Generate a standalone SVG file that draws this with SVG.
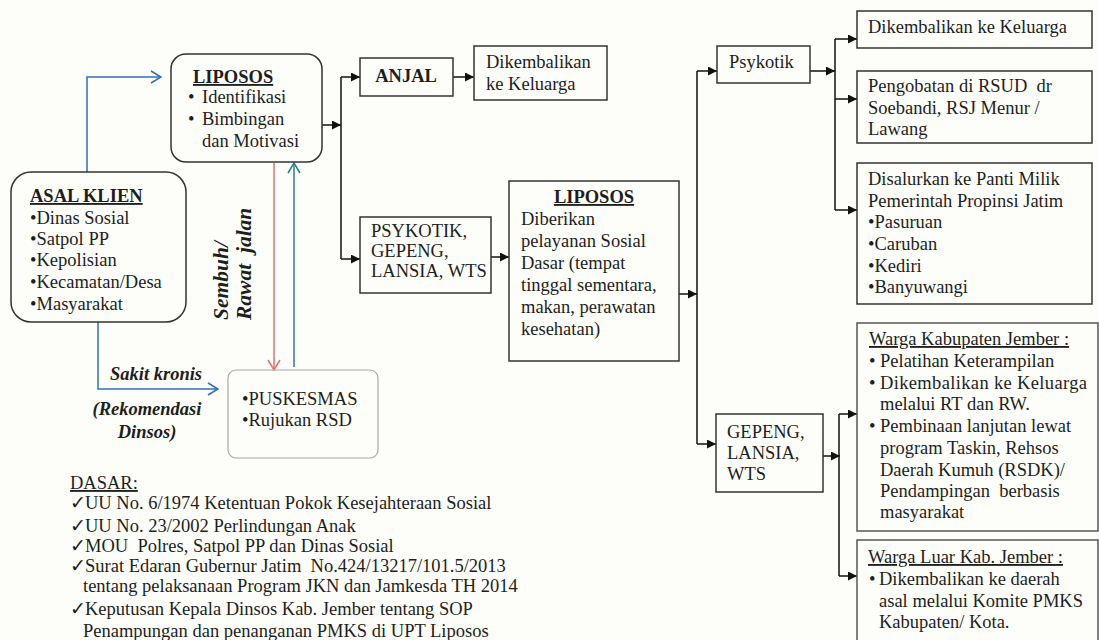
<svg xmlns="http://www.w3.org/2000/svg" width="1099" height="640" viewBox="0 0 1099 640" font-family="'Liberation Serif', 'Times New Roman', 'DejaVu Serif', serif">
<style>
text{font-family:'Liberation Serif','Times New Roman','DejaVu Serif',serif;font-size:18.5px;fill:#1e1e1e}
.b{font-weight:bold}
.bi{font-weight:bold;font-style:italic}
.u{text-decoration:underline}
.box{fill:none;stroke:#333;stroke-width:1.5}
.gbox{fill:none;stroke:#555;stroke-width:1.5}
.lbox{fill:none;stroke:#a8a8a8;stroke-width:1.2}
.k{fill:none;stroke:#111;stroke-width:1.5}
.ar{fill:none;stroke:#111;stroke-width:1.5;marker-end:url(#ah)}
.blue{fill:none;stroke:#2f6fb5;stroke-width:1.5;marker-end:url(#ob)}
.red{fill:none;stroke:#e07070;stroke-width:1.5;marker-end:url(#or)}
.teal{fill:none;stroke:#2d7d8e;stroke-width:1.5;marker-end:url(#ot)}
.ck{font-family:'DejaVu Sans',sans-serif;font-size:19px}
</style>
<defs>
<marker id="ah" viewBox="0 0 10 10" refX="10" refY="5" markerWidth="9" markerHeight="9" markerUnits="userSpaceOnUse" orient="auto"><path d="M0,0 L10,5 L0,10 Z" fill="#111"/></marker>
<marker id="ob" viewBox="0 0 12 14" refX="11" refY="7" markerWidth="12" markerHeight="14" markerUnits="userSpaceOnUse" orient="auto"><path d="M1,1 L11,7 L1,13" fill="none" stroke="#2f6fb5" stroke-width="1.5"/></marker>
<marker id="or" viewBox="0 0 12 14" refX="11" refY="7" markerWidth="12" markerHeight="14" markerUnits="userSpaceOnUse" orient="auto"><path d="M1,1 L11,7 L1,13" fill="none" stroke="#e07070" stroke-width="1.5"/></marker>
<marker id="ot" viewBox="0 0 12 14" refX="11" refY="7" markerWidth="12" markerHeight="14" markerUnits="userSpaceOnUse" orient="auto"><path d="M1,1 L11,7 L1,13" fill="none" stroke="#2d7d8e" stroke-width="1.5"/></marker>
</defs>
<rect x="0" y="0" width="1099" height="640" fill="#fdfdf9"/>

<g id="connectors">
<path class="blue" d="M87,172 V77 H161"/>
<path class="blue" d="M98,322 V389 H218"/>
<path class="red" d="M274,163 V370"/>
<path class="teal" d="M294,367 V163"/>
<path class="ar" d="M322,125 H341"/>
<path class="k" d="M341,77 V259"/>
<path class="ar" d="M341,77 H360"/>
<path class="ar" d="M341,259 H360"/>
<path class="ar" d="M453,77 H474"/>
<path class="ar" d="M491,257 H509"/>
<path class="ar" d="M679,294 H697"/>
<path class="k" d="M697,71 V444"/>
<path class="ar" d="M697,71 H717"/>
<path class="ar" d="M697,444 H716"/>
<path class="ar" d="M810,71 H835"/>
<path class="k" d="M835,39 V210"/>
<path class="ar" d="M835,39 H857"/>
<path class="ar" d="M835,99 H857"/>
<path class="ar" d="M835,210 H857"/>
<path class="ar" d="M823,456 H840"/>
<path class="k" d="M839,414 V576"/>
<path class="ar" d="M839,414 H857"/>
<path class="ar" d="M839,576 H857"/>
</g>

<g id="label-sakit">
<text class="bi" x="110" y="380">Sakit kronis</text>
<text class="bi" x="147" y="415" text-anchor="middle">(Rekomendasi</text>
<text class="bi" x="147" y="438" text-anchor="middle">Dinsos)</text>
</g>
<g id="label-sembuh">
<text class="bi" transform="translate(228,320) rotate(-90)" x="0" y="0" style="font-size:21.5px">Sembuh/</text>
<text class="bi" transform="translate(251,320) rotate(-90)" x="0" y="0" style="font-size:21.5px" xml:space="preserve">Rawat  jalan</text>
</g>

<g id="asal-klien">
<rect class="box" x="11" y="172" width="175" height="150" rx="20"/>
<text class="b u" x="30" y="202">ASAL KLIEN</text>
<text x="30" y="224">•Dinas Sosial</text>
<text x="30" y="245">•Satpol PP</text>
<text x="30" y="266">•Kepolisian</text>
<text x="30" y="288">•Kecamatan/Desa</text>
<text x="30" y="310">•Masyarakat</text>
</g>

<g id="liposos-1">
<rect class="box" x="171" y="54" width="151" height="108" rx="15"/>
<text class="b u" x="193" y="83">LIPOSOS</text>
<text x="188" y="103">•</text><text x="202" y="103">Identifikasi</text>
<text x="188" y="125">•</text><text x="202" y="125">Bimbingan</text>
<text x="202" y="147">dan Motivasi</text>
</g>

<g id="puskesmas">
<rect class="lbox" x="228" y="370" width="150" height="88" rx="8"/>
<text x="242" y="405">•PUSKESMAS</text>
<text x="242" y="426">•Rujukan RSD</text>
</g>

<g id="anjal">
<rect class="box" x="360" y="58" width="93" height="38"/>
<text class="b" x="406" y="82" text-anchor="middle">ANJAL</text>
</g>

<g id="dikembalikan-1">
<rect class="box" x="474" y="46" width="133" height="54"/>
<text x="486" y="68">Dikembalikan</text>
<text x="486" y="90">ke Keluarga</text>
</g>

<g id="psykotik-gepeng">
<rect class="box" x="360" y="217" width="131" height="76"/>
<text x="371" y="237">PSYKOTIK,</text>
<text x="371" y="257">GEPENG,</text>
<text x="371" y="277">LANSIA, WTS</text>
</g>

<g id="liposos-2">
<rect class="box" x="509" y="181" width="170" height="180"/>
<text class="b u" x="594" y="203" text-anchor="middle">LIPOSOS</text>
<text x="521" y="225">Diberikan</text>
<text x="521" y="247">pelayanan Sosial</text>
<text x="521" y="269">Dasar (tempat</text>
<text x="521" y="291">tinggal sementara,</text>
<text x="521" y="313">makan, perawatan</text>
<text x="521" y="335">kesehatan)</text>
</g>

<g id="psykotik">
<rect class="box" x="717" y="46" width="93" height="37"/>
<text x="729" y="68">Psykotik</text>
</g>

<g id="dikembalikan-2">
<rect class="box" x="857" y="11" width="235" height="37"/>
<text x="868" y="33">Dikembalikan ke Keluarga</text>
</g>

<g id="pengobatan">
<rect class="box" x="857" y="71" width="235" height="72"/>
<text x="868" y="92" xml:space="preserve">Pengobatan di RSUD  dr</text>
<text x="868" y="114">Soebandi, RSJ Menur /</text>
<text x="868" y="135">Lawang</text>
</g>

<g id="disalurkan">
<rect class="box" x="857" y="163" width="235" height="141"/>
<text x="868" y="185">Disalurkan ke Panti Milik</text>
<text x="868" y="207">Pemerintah Propinsi Jatim</text>
<text x="868" y="228">•Pasuruan</text>
<text x="868" y="250">•Caruban</text>
<text x="868" y="272">•Kediri</text>
<text x="868" y="293">•Banyuwangi</text>
</g>

<g id="gepeng">
<rect class="box" x="716" y="414" width="107" height="78"/>
<text x="727" y="438">GEPENG,</text>
<text x="727" y="459">LANSIA,</text>
<text x="727" y="480">WTS</text>
</g>

<g id="warga-kabupaten">
<rect class="gbox" x="857" y="323" width="241" height="208"/>
<text class="u" x="869" y="345">Warga Kabupaten Jember :</text>
<text x="869" y="367">•</text><text x="880" y="367">Pelatihan Keterampilan</text>
<text x="869" y="389">•</text><text x="880" y="389" textLength="207" lengthAdjust="spacing">Dikembalikan ke Keluarga</text>
<text x="880" y="410">melalui RT dan RW.</text>
<text x="869" y="432">•</text><text x="880" y="432">Pembinaan lanjutan lewat</text>
<text x="880" y="454">program Taskin, Rehsos</text>
<text x="880" y="476">Daerah Kumuh (RSDK)/</text>
<text x="880" y="497" xml:space="preserve">Pendampingan  berbasis</text>
<text x="880" y="518">masyarakat</text>
</g>

<g id="warga-luar">
<rect class="gbox" x="857" y="540" width="241" height="110"/>
<text class="u" x="868" y="563">Warga Luar Kab. Jember :</text>
<text x="869" y="585">•</text><text x="879" y="585">Dikembalikan ke daerah</text>
<text x="879" y="607">asal melalui Komite PMKS</text>
<text x="879" y="628">Kabupaten/ Kota.</text>
</g>

<g id="dasar">
<text class="u" x="70" y="489">DASAR:</text>
<text x="70" y="509"><tspan class="ck">✓</tspan><tspan x="85">UU No. 6/1974 Ketentuan Pokok Kesejahteraan Sosial</tspan></text>
<text x="70" y="532"><tspan class="ck">✓</tspan><tspan x="85">UU No. 23/2002 Perlindungan Anak</tspan></text>
<text x="70" y="552" xml:space="preserve"><tspan class="ck">✓</tspan><tspan x="85">MOU  Polres, Satpol PP dan Dinas Sosial</tspan></text>
<text x="70" y="572" xml:space="preserve"><tspan class="ck">✓</tspan><tspan x="85">Surat Edaran Gubernur Jatim  No.424/13217/101.5/2013</tspan></text>
<text x="83" y="592">tentang pelaksanaan Program JKN dan Jamkesda TH 2014</text>
<text x="70" y="615"><tspan class="ck">✓</tspan><tspan x="85">Keputusan Kepala Dinsos Kab. Jember tentang SOP</tspan></text>
<text x="83" y="637">Penampungan dan penanganan PMKS di UPT Liposos</text>
</g>
</svg>
